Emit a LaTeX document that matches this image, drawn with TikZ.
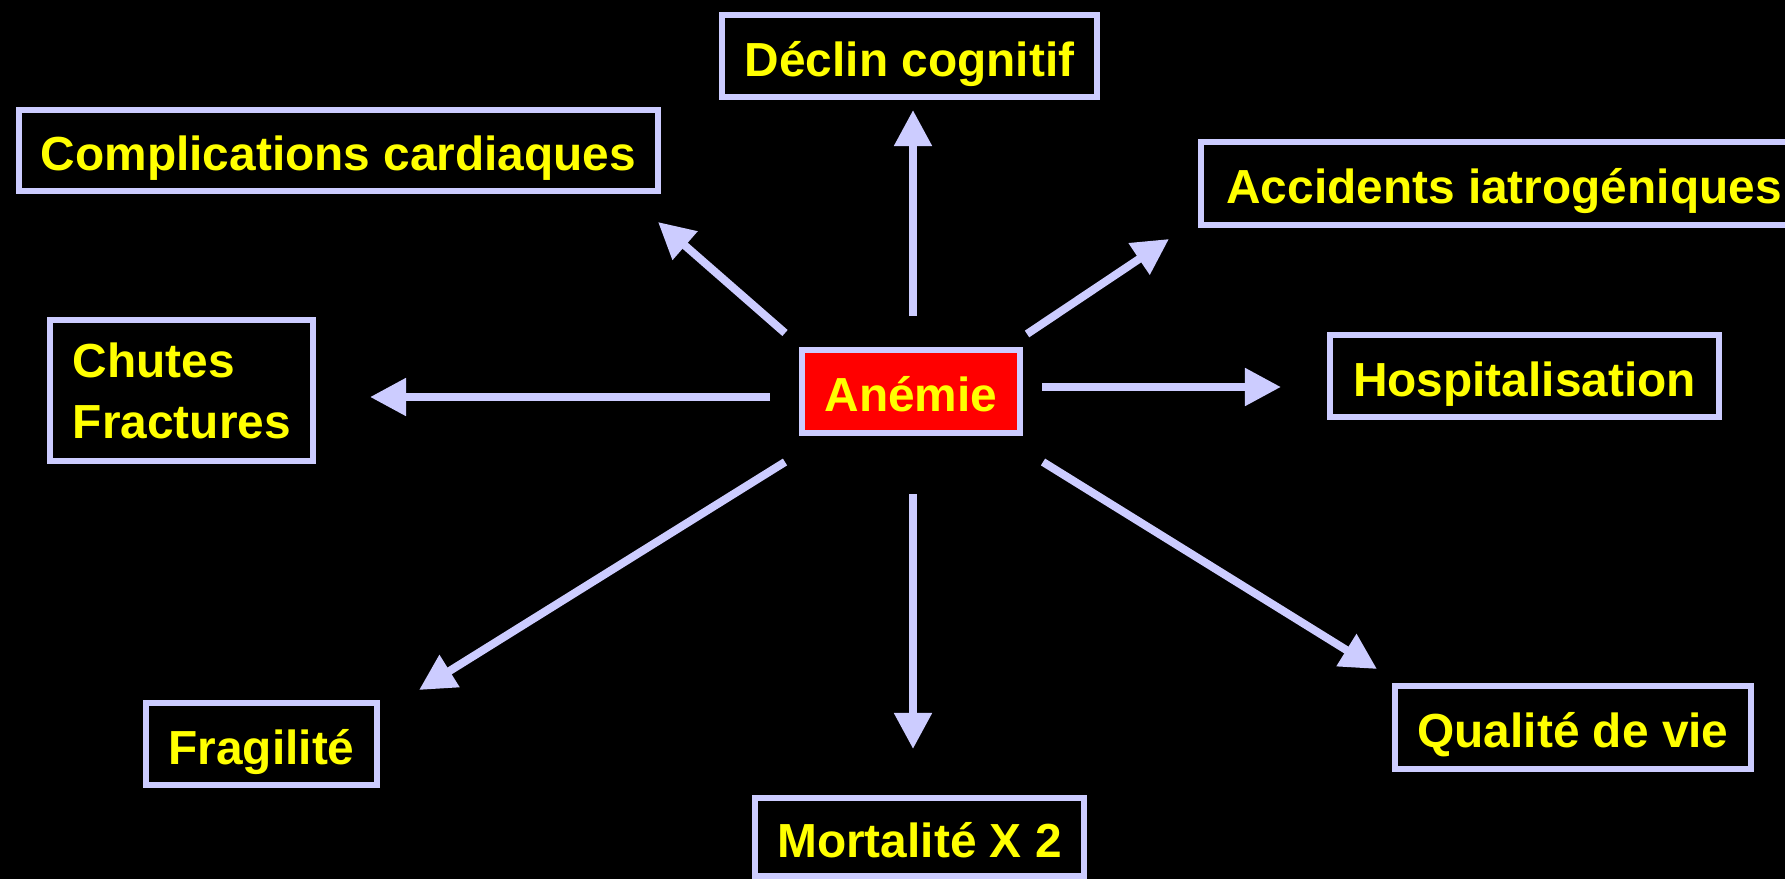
\documentclass[tikz,border=0pt]{standalone}
\usepackage{fontspec}
\setmainfont{Liberation Sans}
\usetikzlibrary{arrows.meta}

\begin{document}
\begin{tikzpicture}[x=0.01cm,y=-0.01cm]
\definecolor{lav}{RGB}{204,204,255}
\definecolor{yel}{RGB}{255,255,0}
\tikzset{
  box/.style={draw=lav, line width=0.06cm, fill=black, text=yel, inner sep=0pt,
    font=\bfseries\fontsize{13.6}{17.3}\selectfont},
  onebox/.style={box, text height=11.6pt, text depth=0pt},
  effet/.style={draw=lav, line width=0.08cm, -{Triangle[length=0.36cm,width=0.36cm]}}
}
%% Background
\fill[black] (0,0) rectangle (1785,879);
\useasboundingbox (0,0) rectangle (1785,879);
%% Boxes
\node[onebox, fill=red, minimum width=2.18cm, minimum height=0.83cm] (anemie) at (911,391.5) {Anémie};
\node[onebox, minimum width=3.75cm, minimum height=0.82cm] (declin) at (909.5,56) {Déclin cognitif};
\node[onebox, minimum width=6.39cm, minimum height=0.81cm] (compl) at (338.5,150.5) {Complications cardiaques};
\node[onebox, minimum width=6.05cm, minimum height=0.83cm] (accid) at (1504,183.5) {Accidents iatrogéniques};
\node[box, minimum width=2.63cm, minimum height=1.41cm, inner xsep=0.23cm, text width=2.17cm, align=left] (chutes) at (181.5,390.5) {Chutes\\Fractures};
\node[onebox, minimum width=3.89cm, minimum height=0.82cm] (hosp) at (1524.5,376) {Hospitalisation};
\node[onebox, minimum width=2.31cm, minimum height=0.82cm] (frag) at (261.5,744) {Fragilité};
\node[onebox, minimum width=3.56cm, minimum height=0.83cm] (qual) at (1573,727.5) {Qualité de vie};
\node[onebox, minimum width=3.29cm, minimum height=0.78cm] (mort) at (919.5,837) {Mortalité X 2};
%% Arrow ends
\coordinate (n0) at (913,316);  \coordinate (n1) at (913,110);
\coordinate (nw0) at (785,333); \coordinate (nw1) at (658,222);
\coordinate (ne0) at (1027,334); \coordinate (ne1) at (1169,239);
\coordinate (w0) at (770,397);  \coordinate (w1) at (370,397);
\coordinate (e0) at (1042,387); \coordinate (e1) at (1281,387);
\coordinate (sw0) at (785,462); \coordinate (sw1) at (419,690);
\coordinate (s0) at (913,494);  \coordinate (s1) at (913,749);
\coordinate (se0) at (1043,462); \coordinate (se1) at (1377,669);
%% Arrows
\foreach \a in {n,nw,ne,w,e,sw,s,se}
  \draw[effet] (\a0) -- (\a1);
\end{tikzpicture}
\end{document}
